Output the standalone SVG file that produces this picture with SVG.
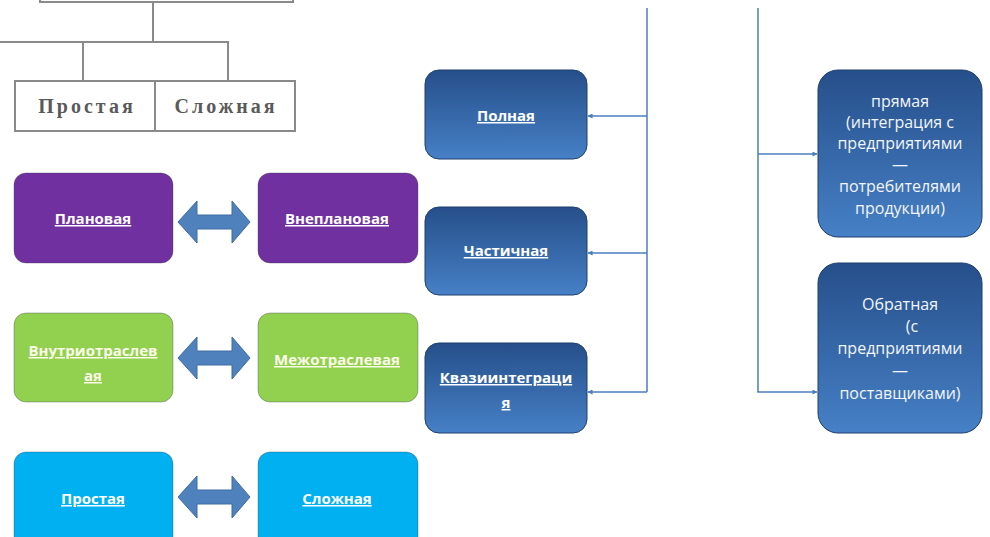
<svg xmlns="http://www.w3.org/2000/svg" width="990" height="537" viewBox="0 0 990 537">
  <defs>
    <linearGradient id="navy" x1="0" y1="0" x2="0" y2="1">
      <stop offset="0" stop-color="#264f8a"/>
      <stop offset="1" stop-color="#4680c6"/>
    </linearGradient>
    <marker id="tip" viewBox="0 0 6 6" refX="5.5" refY="3" markerWidth="5" markerHeight="5" orient="auto" markerUnits="userSpaceOnUse">
      <path d="M0,0 L6,3 L0,6 z" fill="#4a7ebb"/>
    </marker>
    <style>
      .scheme line, .scheme rect { stroke: #8a8a8a; stroke-width: 2; fill: none; }
      .serif { font-family: "Liberation Serif", "DejaVu Serif", serif; font-weight: bold; font-size: 20px; fill: #5a5a5a; letter-spacing: 3px; text-anchor: middle; }
      .card { stroke: #3b3b5a; stroke-opacity: 0.35; stroke-width: 1; }
      .purple { fill: #7030a0; }
      .green { fill: #92d050; }
      .cyan { fill: #00b0f0; }
      .navy { fill: url(#navy); stroke: #1f3f6e; stroke-width: 1; }
      .lbl { font-family: "Open Sans", "Noto Sans", sans-serif; font-weight: bold; font-size: 15px; fill: #ffffff; text-anchor: middle; text-decoration: underline; }
      .lbl-light { fill: #fbfbe8; }
      .note { font-family: "Open Sans", "Noto Sans", sans-serif; font-size: 16px; fill: #f2f5fa; text-anchor: middle; }
      .dbl { fill: #4f81bd; stroke: #3d6ca3; stroke-width: 1; }
      .conn line { stroke: #4a7ebb; stroke-width: 1.5; fill: none; }
    </style>
  </defs>

  <rect width="990" height="537" fill="#ffffff"/>

  <!-- upper-left fragment of a classification tree -->
  <g id="tree-fragment" class="scheme">
    <rect x="40" y="-20" width="253" height="22"/>
    <line x1="153" y1="2" x2="153" y2="42"/>
    <line x1="0" y1="42" x2="229" y2="42"/>
    <line x1="83" y1="42" x2="83" y2="81"/>
    <line x1="228" y1="42" x2="228" y2="81"/>
    <rect x="15" y="81" width="280" height="50"/>
    <line x1="155" y1="81" x2="155" y2="131"/>
    <text class="serif" x="87" y="113">Простая</text>
    <text class="serif" x="226" y="113">Сложная</text>
  </g>

  <!-- pairs of opposite forms -->
  <g id="planned">
    <rect class="card purple" x="14" y="173" width="159" height="90" rx="12"/>
    <text class="lbl" x="93" y="224">Плановая</text>
  </g>
  <g id="unplanned">
    <rect class="card purple" x="258" y="173" width="160" height="90" rx="12"/>
    <text class="lbl" x="337" y="224">Внеплановая</text>
  </g>
  <g id="intra-industry">
    <rect class="card green" x="14" y="313" width="159" height="89" rx="12"/>
    <text class="lbl lbl-light" x="93" y="356">Внутриотраслев</text>
    <text class="lbl lbl-light" x="93" y="381">ая</text>
  </g>
  <g id="inter-industry">
    <rect class="card green" x="258" y="313" width="160" height="89" rx="12"/>
    <text class="lbl lbl-light" x="337" y="365">Межотраслевая</text>
  </g>
  <g id="simple">
    <rect class="card cyan" x="14" y="452" width="159" height="96" rx="12"/>
    <text class="lbl" x="93" y="504">Простая</text>
  </g>
  <g id="complex">
    <rect class="card cyan" x="258" y="452" width="160" height="96" rx="12"/>
    <text class="lbl" x="337" y="504">Сложная</text>
  </g>

  <!-- middle column: degree of integration -->
  <g id="full">
    <rect class="navy" x="425" y="70" width="162" height="89" rx="14"/>
    <text class="lbl" x="506" y="121">Полная</text>
  </g>
  <g id="partial">
    <rect class="navy" x="425" y="207" width="162" height="88" rx="14"/>
    <text class="lbl" x="506" y="256">Частичная</text>
  </g>
  <g id="quasi">
    <rect class="navy" x="425" y="343" width="162" height="90" rx="14"/>
    <text class="lbl" x="506" y="383">Квазиинтеграци</text>
    <text class="lbl" x="506" y="408">я</text>
  </g>

  <!-- right column: direction of integration -->
  <g id="forward">
    <rect class="navy" x="818" y="70" width="164" height="167" rx="20"/>
    <text class="note" x="900" y="107">прямая</text>
    <text class="note" x="900" y="128">(интеграция с</text>
    <text class="note" x="900" y="149">предприятиями</text>
    <text class="note" x="900" y="170">—</text>
    <text class="note" x="900" y="192">потребителями</text>
    <text class="note" x="900" y="214">продукции)</text>
  </g>
  <g id="backward">
    <rect class="navy" x="818" y="263" width="164" height="170" rx="20"/>
    <text class="note" x="900" y="310">Обратная</text>
    <text class="note" x="912" y="332">(с</text>
    <text class="note" x="900" y="354">предприятиями</text>
    <text class="note" x="900" y="376">—</text>
    <text class="note" x="900" y="399">поставщиками)</text>
  </g>

  <!-- connectors -->
  <g id="connectors">
    <g id="pair-arrows">
      <polygon class="dbl" points="178,222 197,201 197,215 232,215 232,201 250,222 232,243 232,229 197,229 197,243"/>
      <polygon class="dbl" points="178,358 197,337 197,351 232,351 232,337 250,358 232,379 232,365 197,365 197,379"/>
      <polygon class="dbl" points="178,497 197,476 197,490 232,490 232,476 250,497 232,518 232,504 197,504 197,518"/>
    </g>
    <g class="conn">
      <line x1="647" y1="8" x2="647" y2="392"/>
      <line x1="647" y1="116" x2="588" y2="116" marker-end="url(#tip)"/>
      <line x1="647" y1="253" x2="588" y2="253" marker-end="url(#tip)"/>
      <line x1="647" y1="392" x2="588" y2="392" marker-end="url(#tip)"/>
      <line x1="758" y1="8" x2="758" y2="392"/>
      <line x1="758" y1="154" x2="817" y2="154" marker-end="url(#tip)"/>
      <line x1="757.25" y1="392" x2="817" y2="392" marker-end="url(#tip)"/>
    </g>
  </g>
</svg>
